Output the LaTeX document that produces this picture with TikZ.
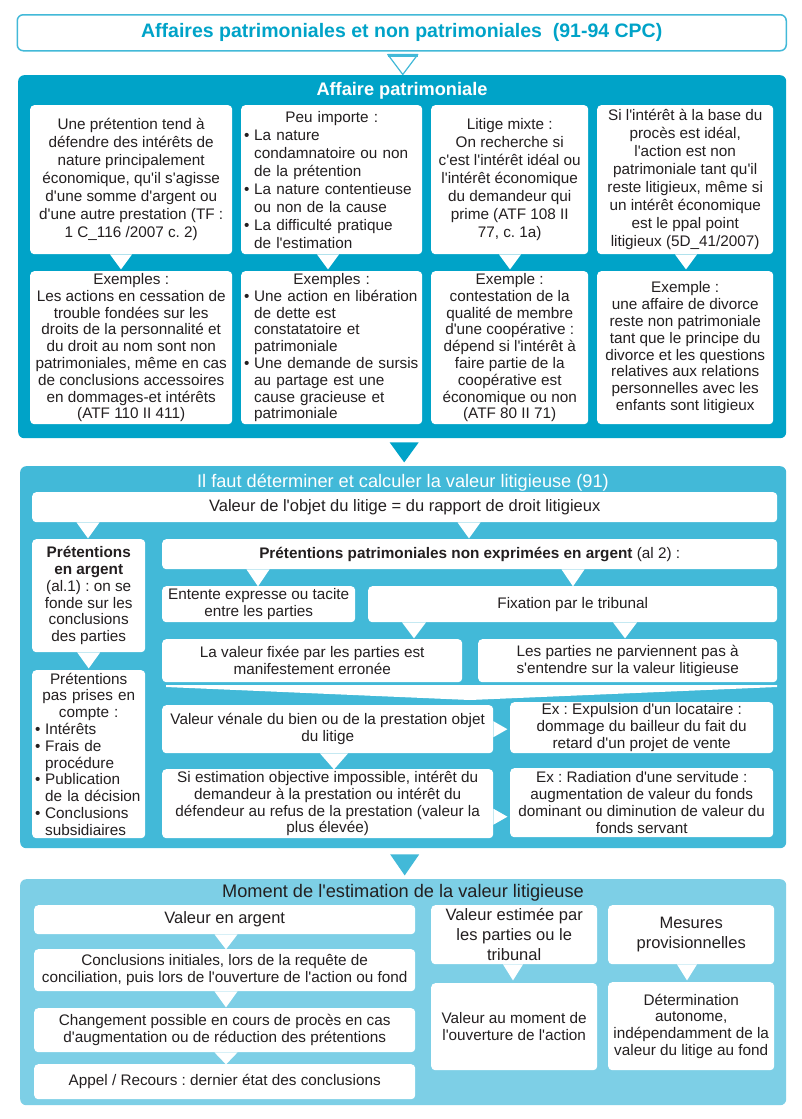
\documentclass[tikz,border=0pt]{standalone}
\usepackage{fontspec}
\setmainfont{Liberation Sans}[Ligatures=TeXOff]
\frenchspacing
\definecolor{pA}{HTML}{00A3C8}
\definecolor{pB}{HTML}{42B9D8}
\definecolor{pC}{HTML}{7DCFE6}
\definecolor{ink}{HTML}{231F20}
\newcommand\bul{\makebox[10pt][l]{•}}
\newcommand\ind{\hspace*{10pt}}
\newcommand\milieu[1]{\hspace*{\fill}#1\hspace*{\fill}\null}

\begin{document}
\begin{tikzpicture}[x=1pt,y=-1pt,
    pnl/.style={fill=#1,rounded corners=6,anchor=north west,inner sep=0},
    wbox/.style={fill=white,rounded corners=4,text=ink,anchor=north west,inner sep=0,align=center,font=\fontsize{15.3}{16.8}\selectfont},
    sz/.style 2 args={minimum width=#1,minimum height=#2},
    lst/.style={text width=#1,align=left,inner xsep=3},
    big/.style={font=\fontsize{16.5}{20}\selectfont},
    haut/.style={font=\fontsize{15.3}{18}\selectfont},
    hd/.style={font=\fontsize{18.2}{20}\selectfont}]
        \fill[white] (0,0) rectangle (802,1119);
        \useasboundingbox (0,0) rectangle (802,1119);
        \node[wbox,sz={769}{36},draw=pB,line width=1.5,rounded corners=6,text=pA,font=\bfseries\fontsize{19.5}{22}\selectfont] (titre) at (16.5,14) {Affaires patrimoniales et non patrimoniales\ \ (91-94 CPC)};
        \filldraw[fill=white,draw=pB,line width=1.2,line join=round] (titre.south) ++(-14,3) -- ++(30,0) -- ++(-15,20) -- cycle;
        \draw[pB,line width=3] (titre.south) ++(-14,4) -- ++(30,0);

        \node[pnl=pA,sz={768}{363}] (pan1) at (18,75) {};
        \node[hd,text=white,font=\bfseries\fontsize{18.2}{20}\selectfont] (h1) at (402,91) {Affaire patrimoniale};
        \node[wbox,haut,sz={202}{149}] (t1) at (30,105) {Une prétention tend à\\défendre des intérêts de\\nature principalement\\économique, qu'il s'agisse\\d'une somme d'argent ou\\d'une autre prestation (TF :\\1 C\_116 /2007 c. 2)};
        \node[wbox,haut,sz={181}{149},lst=175] (t2) at (241,105) {\milieu{Peu importe :}\\\bul La nature\\\ind condamnatoire ou non\\\ind de la prétention\\\bul La nature contentieuse\\\ind ou non de la cause\\\bul La difficulté pratique\\\ind de l'estimation};
        \node[wbox,haut,sz={157}{149}] (t3) at (431,105) {Litige mixte :\\On recherche si\\c'est l'intérêt idéal ou\\l'intérêt économique\\du demandeur qui\\prime (ATF 108 II\\77, c. 1a)};
        \node[wbox,haut,sz={176}{149}] (t4) at (597,105) {Si l'intérêt à la base du\\procès est idéal,\\l'action est non\\patrimoniale tant qu'il\\reste litigieux, même si\\un intérêt économique\\est le ppal point\\litigieux (5D\_41/2007)};
        \node[wbox,sz={202}{153}] (u1) at (30,271) {Exemples :\\Les actions en cessation de\\trouble fondées sur les\\droits de la personnalité et\\du droit au nom sont non\\patrimoniales, même en cas\\de conclusions accessoires\\en dommages-et intérêts\\(ATF 110 II 411)};
        \node[wbox,sz={181}{153},lst=175] (u2) at (241,271) {\milieu{Exemples :}\\\bul Une action en libération\\\ind de dette est\\\ind constatatoire et\\\ind patrimoniale\\\bul Une demande de sursis\\\ind au partage est une\\\ind cause gracieuse et\\\ind patrimoniale};
        \node[wbox,sz={157}{153}] (u3) at (431,271) {Exemple :\\contestation de la\\qualité de membre\\d'une coopérative :\\dépend si l'intérêt à\\faire partie de la\\coopérative est\\économique ou non\\(ATF 80 II 71)};
        \node[wbox,sz={176}{153}] (u4) at (597,271) {Exemple :\\une affaire de divorce\\reste non patrimoniale\\tant que le principe du\\divorce et les questions\\relatives aux relations\\personnelles avec les\\enfants sont litigieux};
        \foreach \a/\x in {t1/121,t2/328,t3/510,t4/686}
        \fill[white] (\a.south -| \x,0) ++(-11,0) -- ++(22,0) -- ++(-11,15) -- cycle;
        \fill[pA] (pan1.south) ++(-12.5,4) -- ++(29,0) -- ++(-14.5,20) -- cycle;

        \node[pnl=pB,sz={766}{382}] (pan2) at (20,466) {};
        \node[hd,text=white] (h2) at (403,483) {Il faut déterminer et calculer la valeur litigieuse (91)};
        \node[wbox,big,sz={745}{30}] (v0) at (32,492) {Valeur de l'objet du litige = du rapport de droit litigieux};
        \node[wbox,sz={113}{113}] (ga) at (32,539) {\textbf{Prétentions}\\\textbf{en argent}\\(al.1) : on se\\fonde sur les\\conclusions\\des parties};
        \node[wbox,sz={113}{168},lst=107] (gn) at (32,670) {\milieu{Prétentions}\\\milieu{pas prises en}\\\milieu{compte :}\\\bul Intérêts\\\bul Frais de\\\ind procédure\\\bul Publication\\\ind de la décision\\\bul Conclusions\\\ind subsidiaires};
        \node[wbox,sz={615}{30}] (np) at (162,539) {\textbf{Prétentions patrimoniales non exprimées en argent} (al 2) :};
        \node[wbox,sz={193}{36}] (en) at (162,586) {Entente expresse ou tacite\\entre les parties};
        \node[wbox,sz={409}{36}] (fx) at (368,586) {Fixation par le tribunal};
        \node[wbox,sz={300}{43}] (vf) at (162,639) {La valeur fixée par les parties est\\manifestement erronée};
        \node[wbox,sz={299}{43}] (pp) at (478,639) {Les parties ne parviennent pas à\\s'entendre sur la valeur litigieuse};
        \node[wbox,sz={331}{48}] (vv) at (162,705) {Valeur vénale du bien ou de la prestation objet\\du litige};
        \node[wbox,sz={263}{51}] (ex1) at (510,702) {Ex : Expulsion d'un locataire :\\dommage du bailleur du fait du\\retard d'un projet de vente};
        \node[wbox,sz={331}{69}] (se) at (162,769) {Si estimation objective impossible, intérêt du\\demandeur à la prestation ou intérêt du\\défendeur au refus de la prestation (valeur la\\plus élevée)};
        \node[wbox,sz={263}{69}] (ex2) at (510,768) {Ex : Radiation d'une servitude :\\augmentation de valeur du fonds\\dominant ou diminution de valeur du\\fonds servant};
        \foreach \x in {88,469}
        \fill[white] (v0.south -| \x,0) ++(-11.5,0) -- ++(23,0) -- ++(-11.5,16) -- cycle;
        \fill[white] (ga.south) ++(-11.5,0) -- ++(23,0) -- ++(-11.5,16) -- cycle;
        \foreach \x in {258,573}
        \fill[white] (np.south -| \x,0) ++(-11.5,0) -- ++(23,0) -- ++(-11.5,17) -- cycle;
        \foreach \x in {414,625}
        \fill[white] (fx.south -| \x,0) ++(-12,0) -- ++(24,0) -- ++(-12,16) -- cycle;
        \fill[white] (166,685) -- (777,685) -- (777,687) -- (470,700) -- (166,687) -- cycle;
        \fill[white] (vv.south -| 334,0) ++(-14,0) -- ++(28,0) -- ++(-14,16) -- cycle;
        \fill[white] (vv.east) ++(0,-8) -- ++(14,8) -- ++(-14,8) -- cycle;
        \fill[white] (se.east) ++(0,5) -- ++(14,8) -- ++(-14,8) -- cycle;
        \fill[pB] (pan2.south) ++(-13,6) -- ++(29,0) -- ++(-14.5,21) -- cycle;

        \node[pnl=pC,sz={766}{226}] (pan3) at (20,879) {};
        \node[hd,text=ink] (h3) at (403,893) {Moment de l'estimation de la valeur litigieuse};
        \node[wbox,big,sz={381}{29}] (a1) at (34,905) {Valeur en argent};
        \node[wbox,sz={381}{42}] (a2) at (34,949) {Conclusions initiales, lors de la requête de\\conciliation, puis lors de l'ouverture de l'action ou fond};
        \node[wbox,sz={381}{44}] (a3) at (34,1008) {Changement possible en cours de procès en cas\\d'augmentation ou de réduction des prétentions};
        \node[wbox,sz={381}{35}] (a4) at (34,1064) {Appel / Recours : dernier état des conclusions};
        \node[wbox,big,sz={166}{59}] (b1) at (431,905) {Valeur estimée par\\les parties ou le\\tribunal};
        \node[wbox,sz={166}{87}] (b2) at (431,983) {Valeur au moment de\\l'ouverture de l'action};
        \node[wbox,big,sz={166}{59}] (c1) at (608,905) {Mesures\\provisionnelles};
        \node[wbox,sz={166}{88}] (c2) at (608,982) {Détermination\\autonome,\\indépendamment de la\\valeur du litige au fond};
        \foreach \a/\h in {a1/15,a2/16,a3/12}
        \fill[white] (\a.south -| 226,0) ++(-11.5,0) -- ++(23,0) -- ++(-11.5,\h) -- cycle;
        \foreach \a/\x in {b1/513,c1/687}
        \fill[white] (\a.south -| \x,0) ++(-10,0) -- ++(20,0) -- ++(-10,16) -- cycle;
    \end{tikzpicture}
\end{document}
